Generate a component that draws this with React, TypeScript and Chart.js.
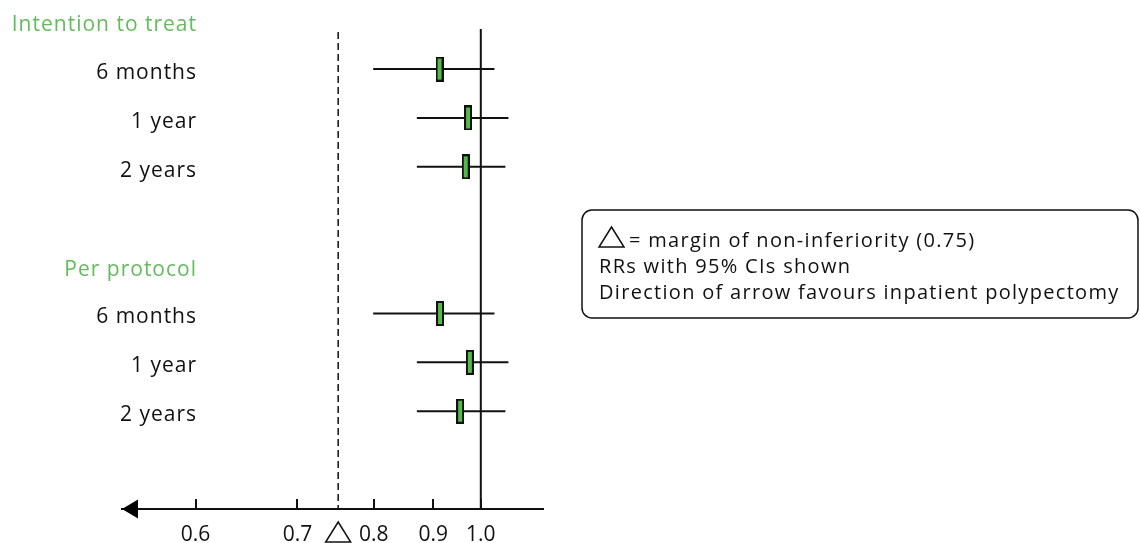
import React, { useEffect, useRef } from "react";
import { Chart, registerables, LinearScale } from "chart.js";

// ---- data ----
const categories = ["6 months", "1 year", "2 years", "6 months", "1 year", "2 years"];
const rowPositions = [1, 2, 3, 6, 7, 8];
const groupLabels = ["Intention to treat", "Per protocol"];
const groupPositions = [0, 5];
const rr = [0.912, 0.971, 0.966, 0.913, 0.975, 0.954];
const ciLow = [0.799, 0.87, 0.87, 0.799, 0.87, 0.87];
const ciHigh = [1.033, 1.069, 1.061, 1.033, 1.069, 1.061];
const xTicks = [0.6, 0.7, 0.8, 0.9, 1.0];
const xRange = [0.5439, 1.1701];
const yRange = [0.18, 10];
const nullValue = 1.0;
const marginValue = 0.75;
const legendLines = [
  "= margin of non-inferiority (0.75)",
  "RRs with 95% CIs shown",
  "Direction of arrow favours inpatient polypectomy",
];

const GREEN_TEXT = "#63bb5b";
const GREEN_FILL = "#55b84a";
const FONT = '"Open Sans", "Noto Sans", sans-serif';

class ReciprocalScale extends LinearScale {
  static id = "reciprocal";
  static defaults = LinearScale.defaults;
  getPixelForValue(value: number) {
    const a = 1 / this.min;
    const b = 1 / this.max;
    return this.getPixelForDecimal((a - 1 / value) / (a - b));
  }
  getValueForPixel(pixel: number) {
    const a = 1 / this.min;
    const b = 1 / this.max;
    const d = this.getDecimalForPixel(pixel);
    return 1 / (a - d * (a - b));
  }
}

Chart.register(...registerables, ReciprocalScale);

function makeMarker(): HTMLCanvasElement {
  const c = document.createElement("canvas");
  c.width = 8;
  c.height = 25;
  const g = c.getContext("2d")!;
  g.fillStyle = "#111";
  g.fillRect(0, 0, 8, 25);
  g.fillStyle = GREEN_FILL;
  g.fillRect(2, 2, 4, 21);
  return c;
}

function triangle(ctx: CanvasRenderingContext2D, cx: number, top: number, w: number, h: number) {
  ctx.beginPath();
  ctx.moveTo(cx, top);
  ctx.lineTo(cx + w / 2, top + h);
  ctx.lineTo(cx - w / 2, top + h);
  ctx.closePath();
  ctx.stroke();
}

const decorPlugin = {
  id: "forestDecor",
  afterDraw(chart: any) {
    const ctx: CanvasRenderingContext2D = chart.ctx;
    const xs = chart.scales.x;
    const ys = chart.scales.y;
    const area = chart.chartArea;
    ctx.save();

    // tick marks above axis
    ctx.strokeStyle = "#111";
    ctx.lineWidth = 2;
    xs.ticks.forEach((t: any) => {
      const px = Math.round(xs.getPixelForValue(t.value));
      ctx.beginPath();
      ctx.moveTo(px, area.bottom - 10);
      ctx.lineTo(px, area.bottom);
      ctx.stroke();
    });

    // arrow head at left end of axis
    ctx.fillStyle = "#000";
    ctx.beginPath();
    ctx.moveTo(area.left, area.bottom);
    ctx.lineTo(area.left + 16, area.bottom - 9.5);
    ctx.lineTo(area.left + 16, area.bottom + 9.5);
    ctx.closePath();
    ctx.fill();

    // margin triangle under axis
    ctx.lineWidth = 1.5;
    ctx.strokeStyle = "#111";
    triangle(ctx, xs.getPixelForValue(marginValue), area.bottom + 13, 25, 20);

    // row labels
    const labelRight = 196;
    ctx.textAlign = "right";
    ctx.textBaseline = "alphabetic";
    ctx.font = `21px ${FONT}`;
    (ctx as any).letterSpacing = "1px";
    ctx.fillStyle = "#111";
    categories.forEach((lab, i) => {
      ctx.fillText(lab, labelRight + 1, ys.getPixelForValue(rowPositions[i]) + 10);
    });
    ctx.fillStyle = GREEN_TEXT;
    groupLabels.forEach((lab, i) => {
      ctx.fillText(lab, labelRight + 1, ys.getPixelForValue(groupPositions[i]) + 11);
    });

    // legend box
    const bx = 582, by = 210, bw = 556, bh = 108, r = 10;
    ctx.lineWidth = 1.5;
    ctx.strokeStyle = "#111";
    ctx.beginPath();
    ctx.moveTo(bx + r, by);
    ctx.lineTo(bx + bw - r, by);
    ctx.arcTo(bx + bw, by, bx + bw, by + r, r);
    ctx.lineTo(bx + bw, by + bh - r);
    ctx.arcTo(bx + bw, by + bh, bx + bw - r, by + bh, r);
    ctx.lineTo(bx + r, by + bh);
    ctx.arcTo(bx, by + bh, bx, by + bh - r, r);
    ctx.lineTo(bx, by + r);
    ctx.arcTo(bx, by, bx + r, by, r);
    ctx.closePath();
    ctx.stroke();

    triangle(ctx, 611.5, 227, 25, 20);
    ctx.textAlign = "left";
    ctx.fillStyle = "#111";
    ctx.font = `20px ${FONT}`;
    (ctx as any).letterSpacing = "1.3px";
    ctx.fillText(legendLines[0], 629, 247);
    ctx.fillText(legendLines[1], 599, 273);
    ctx.fillText(legendLines[2], 599, 299);

    ctx.restore();
  },
};

export default function App() {
  const ref = useRef<HTMLCanvasElement | null>(null);
  useEffect(() => {
    document.body.style.margin = "0";
    const marker = makeMarker();
    const ciSets = rr.map((_, i) => ({
      type: "line" as const,
      data: [
        { x: ciLow[i], y: rowPositions[i] },
        { x: ciHigh[i], y: rowPositions[i] },
      ],
      borderColor: "#111",
      borderWidth: 2,
      pointRadius: 0,
      order: 1,
    }));
    const chart = new Chart(ref.current!, {
      type: "scatter",
      data: {
        datasets: [
          {
            type: "scatter" as const,
            data: rr.map((v, i) => ({ x: v, y: rowPositions[i] })),
            pointStyle: marker as any,
            pointRadius: 5,
            order: 0,
          },
          ...ciSets,
          {
            type: "line" as const,
            data: [
              { x: nullValue, y: yRange[0] },
              { x: nullValue, y: yRange[1] },
            ],
            borderColor: "#111",
            borderWidth: 2,
            pointRadius: 0,
            order: 2,
          },
          {
            type: "line" as const,
            data: [
              { x: marginValue, y: yRange[0] + 0.06 },
              { x: marginValue, y: yRange[1] },
            ],
            borderColor: "#111",
            borderWidth: 1.5,
            borderDash: [7, 4],
            pointRadius: 0,
            order: 2,
          },
        ] as any,
      },
      options: {
        animation: false,
        responsive: false,
        layout: { padding: { left: 122, right: 597, top: 29, bottom: 0 } },
        plugins: { legend: { display: false }, tooltip: { enabled: false } },
        scales: {
          x: {
            type: "reciprocal" as any,
            position: "bottom",
            min: xRange[0],
            max: xRange[1],
            afterBuildTicks: (scale: any) => {
              scale.ticks = xTicks.map((v) => ({ value: v }));
            },
            afterFit: (scale: any) => {
              scale.height = 34;
            },
            grid: { display: false, drawTicks: false },
            border: { display: true, color: "#111", width: 2 },
            ticks: {
              autoSkip: false,
              maxRotation: 0,
              padding: 13,
              color: "#111",
              font: { family: FONT, size: 21 },
              callback: (v: any) => Number(v).toFixed(1),
            },
          },
          y: {
            type: "linear",
            display: false,
            reverse: true,
            min: yRange[0],
            max: yRange[1],
          },
        },
      } as any,
      plugins: [decorPlugin],
    });
    return () => chart.destroy();
  }, []);
  return (
    <div style={{ width: 1140, height: 543, background: "#fff" }}>
      <canvas ref={ref} width={1140} height={543} style={{ display: "block" }} />
    </div>
  );
}
